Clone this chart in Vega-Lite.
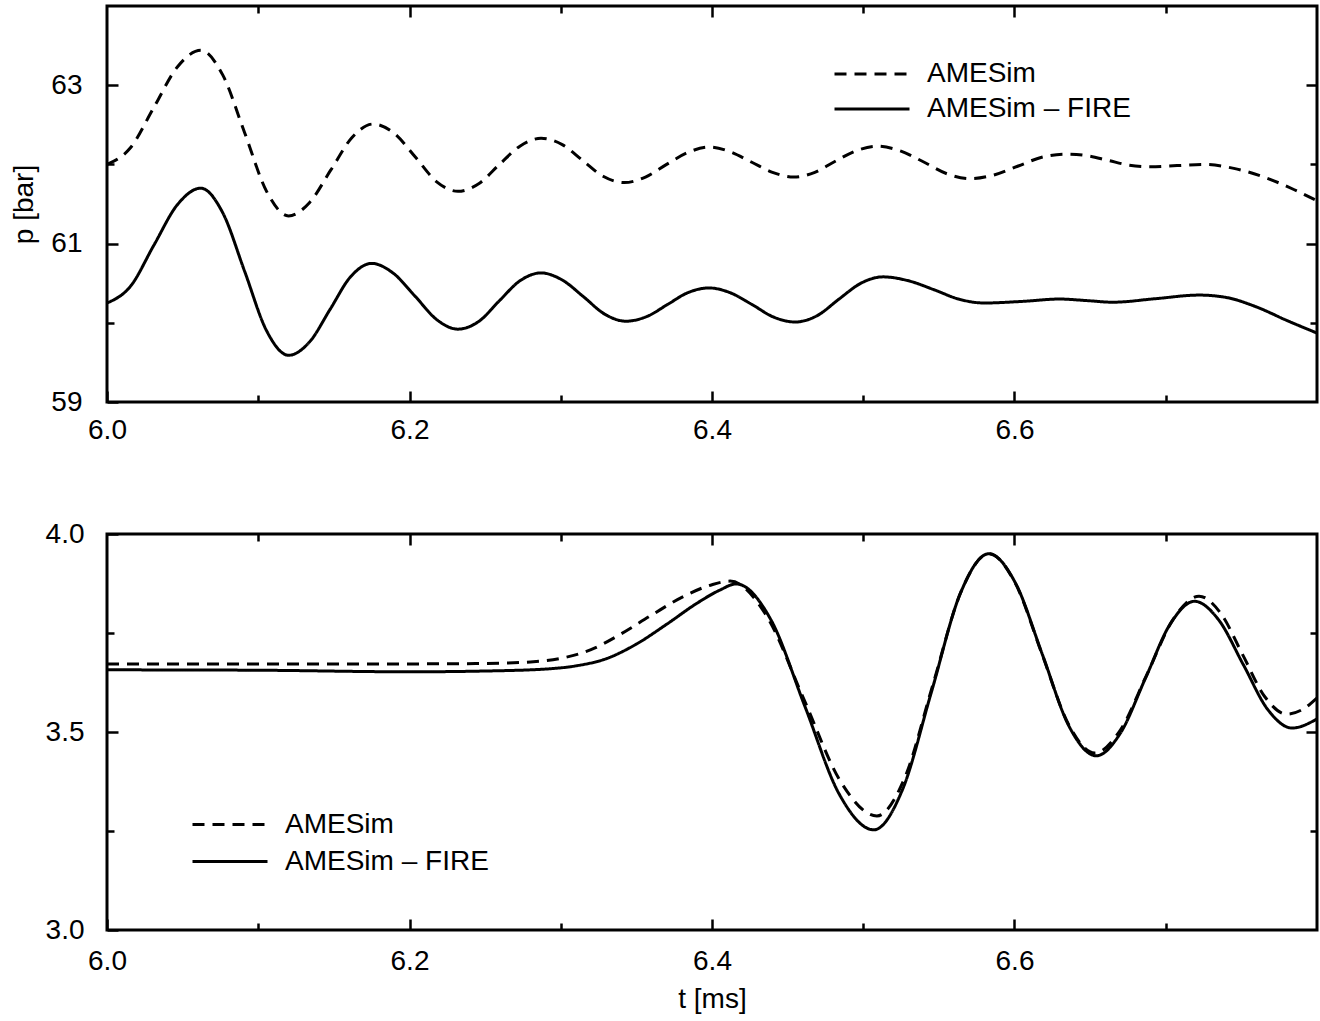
{
  "$schema": "https://vega.github.io/schema/vega-lite/v6.json",
  "padding": {"left": 9, "top": 3, "right": 2, "bottom": 2},
  "background": "white",
  "config": {
    "font": "Liberation Sans",
    "view": {"stroke": "black", "strokeWidth": 3},
    "axis": {"grid": false, "domain": false, "labelFont": "Liberation Sans", "labelFontSize": 28, "labelColor": "black", "tickColor": "black", "tickWidth": 2.5, "labelFlush": false, "labelOverlap": false, "titleFont": "Liberation Sans", "titleFontSize": 28, "titleFontWeight": "normal", "titleColor": "black"},
    "legend": {"orient": "none", "title": null, "symbolType": "stroke", "symbolSize": 5625, "symbolStrokeWidth": 3, "symbolStrokeColor": "black", "labelFont": "Liberation Sans", "labelFontSize": 28, "labelColor": "black", "labelOffset": 16, "rowPadding": 0, "padding": 0, "labelLimit": 400}
  },
  "datasets": {
    "top": [
      {"t": 6.000, "p": 62.00, "series": "AMESim"},
      {"t": 6.0155, "p": 62.21, "series": "AMESim"},
      {"t": 6.031, "p": 62.72, "series": "AMESim"},
      {"t": 6.0465, "p": 63.23, "series": "AMESim"},
      {"t": 6.062, "p": 63.44, "series": "AMESim"},
      {"t": 6.0765, "p": 63.13, "series": "AMESim"},
      {"t": 6.091, "p": 62.40, "series": "AMESim"},
      {"t": 6.1055, "p": 61.66, "series": "AMESim"},
      {"t": 6.120, "p": 61.35, "series": "AMESim"},
      {"t": 6.134, "p": 61.52, "series": "AMESim"},
      {"t": 6.148, "p": 61.93, "series": "AMESim"},
      {"t": 6.162, "p": 62.34, "series": "AMESim"},
      {"t": 6.176, "p": 62.51, "series": "AMESim"},
      {"t": 6.190, "p": 62.39, "series": "AMESim"},
      {"t": 6.204, "p": 62.09, "series": "AMESim"},
      {"t": 6.218, "p": 61.78, "series": "AMESim"},
      {"t": 6.232, "p": 61.66, "series": "AMESim"},
      {"t": 6.246, "p": 61.76, "series": "AMESim"},
      {"t": 6.2595, "p": 62.00, "series": "AMESim"},
      {"t": 6.273, "p": 62.23, "series": "AMESim"},
      {"t": 6.287, "p": 62.33, "series": "AMESim"},
      {"t": 6.301, "p": 62.25, "series": "AMESim"},
      {"t": 6.3145, "p": 62.05, "series": "AMESim"},
      {"t": 6.328, "p": 61.85, "series": "AMESim"},
      {"t": 6.342, "p": 61.77, "series": "AMESim"},
      {"t": 6.356, "p": 61.84, "series": "AMESim"},
      {"t": 6.370, "p": 62.00, "series": "AMESim"},
      {"t": 6.384, "p": 62.15, "series": "AMESim"},
      {"t": 6.398, "p": 62.22, "series": "AMESim"},
      {"t": 6.412, "p": 62.16, "series": "AMESim"},
      {"t": 6.426, "p": 62.03, "series": "AMESim"},
      {"t": 6.440, "p": 61.90, "series": "AMESim"},
      {"t": 6.454, "p": 61.84, "series": "AMESim"},
      {"t": 6.468, "p": 61.90, "series": "AMESim"},
      {"t": 6.4815, "p": 62.04, "series": "AMESim"},
      {"t": 6.495, "p": 62.17, "series": "AMESim"},
      {"t": 6.509, "p": 62.23, "series": "AMESim"},
      {"t": 6.5245, "p": 62.17, "series": "AMESim"},
      {"t": 6.540, "p": 62.03, "series": "AMESim"},
      {"t": 6.5555, "p": 61.88, "series": "AMESim"},
      {"t": 6.571, "p": 61.82, "series": "AMESim"},
      {"t": 6.587, "p": 61.87, "series": "AMESim"},
      {"t": 6.6025, "p": 61.98, "series": "AMESim"},
      {"t": 6.618, "p": 62.09, "series": "AMESim"},
      {"t": 6.634, "p": 62.13, "series": "AMESim"},
      {"t": 6.648, "p": 62.11, "series": "AMESim"},
      {"t": 6.662, "p": 62.05, "series": "AMESim"},
      {"t": 6.676, "p": 61.99, "series": "AMESim"},
      {"t": 6.690, "p": 61.97, "series": "AMESim"},
      {"t": 6.7075, "p": 61.985, "series": "AMESim"},
      {"t": 6.725, "p": 62.00, "series": "AMESim"},
      {"t": 6.745, "p": 61.95, "series": "AMESim"},
      {"t": 6.765, "p": 61.84, "series": "AMESim"},
      {"t": 6.785, "p": 61.68, "series": "AMESim"},
      {"t": 6.800, "p": 61.54, "series": "AMESim"},
      {"t": 6.000, "p": 60.25, "series": "AMESim – FIRE"},
      {"t": 6.0155, "p": 60.46, "series": "AMESim – FIRE"},
      {"t": 6.031, "p": 60.98, "series": "AMESim – FIRE"},
      {"t": 6.0465, "p": 61.49, "series": "AMESim – FIRE"},
      {"t": 6.062, "p": 61.70, "series": "AMESim – FIRE"},
      {"t": 6.0765, "p": 61.39, "series": "AMESim – FIRE"},
      {"t": 6.091, "p": 60.65, "series": "AMESim – FIRE"},
      {"t": 6.1055, "p": 59.90, "series": "AMESim – FIRE"},
      {"t": 6.120, "p": 59.59, "series": "AMESim – FIRE"},
      {"t": 6.134, "p": 59.76, "series": "AMESim – FIRE"},
      {"t": 6.1475, "p": 60.17, "series": "AMESim – FIRE"},
      {"t": 6.161, "p": 60.58, "series": "AMESim – FIRE"},
      {"t": 6.175, "p": 60.75, "series": "AMESim – FIRE"},
      {"t": 6.189, "p": 60.63, "series": "AMESim – FIRE"},
      {"t": 6.2035, "p": 60.34, "series": "AMESim – FIRE"},
      {"t": 6.218, "p": 60.04, "series": "AMESim – FIRE"},
      {"t": 6.232, "p": 59.92, "series": "AMESim – FIRE"},
      {"t": 6.246, "p": 60.02, "series": "AMESim – FIRE"},
      {"t": 6.2595, "p": 60.28, "series": "AMESim – FIRE"},
      {"t": 6.273, "p": 60.53, "series": "AMESim – FIRE"},
      {"t": 6.287, "p": 60.63, "series": "AMESim – FIRE"},
      {"t": 6.301, "p": 60.54, "series": "AMESim – FIRE"},
      {"t": 6.315, "p": 60.33, "series": "AMESim – FIRE"},
      {"t": 6.329, "p": 60.11, "series": "AMESim – FIRE"},
      {"t": 6.343, "p": 60.02, "series": "AMESim – FIRE"},
      {"t": 6.357, "p": 60.08, "series": "AMESim – FIRE"},
      {"t": 6.3705, "p": 60.23, "series": "AMESim – FIRE"},
      {"t": 6.384, "p": 60.38, "series": "AMESim – FIRE"},
      {"t": 6.398, "p": 60.44, "series": "AMESim – FIRE"},
      {"t": 6.412, "p": 60.38, "series": "AMESim – FIRE"},
      {"t": 6.4265, "p": 60.23, "series": "AMESim – FIRE"},
      {"t": 6.441, "p": 60.07, "series": "AMESim – FIRE"},
      {"t": 6.455, "p": 60.01, "series": "AMESim – FIRE"},
      {"t": 6.4695, "p": 60.09, "series": "AMESim – FIRE"},
      {"t": 6.484, "p": 60.30, "series": "AMESim – FIRE"},
      {"t": 6.4985, "p": 60.50, "series": "AMESim – FIRE"},
      {"t": 6.513, "p": 60.58, "series": "AMESim – FIRE"},
      {"t": 6.530, "p": 60.53, "series": "AMESim – FIRE"},
      {"t": 6.5465, "p": 60.42, "series": "AMESim – FIRE"},
      {"t": 6.563, "p": 60.30, "series": "AMESim – FIRE"},
      {"t": 6.580, "p": 60.25, "series": "AMESim – FIRE"},
      {"t": 6.605, "p": 60.27, "series": "AMESim – FIRE"},
      {"t": 6.630, "p": 60.30, "series": "AMESim – FIRE"},
      {"t": 6.648, "p": 60.28, "series": "AMESim – FIRE"},
      {"t": 6.665, "p": 60.26, "series": "AMESim – FIRE"},
      {"t": 6.6935, "p": 60.305, "series": "AMESim – FIRE"},
      {"t": 6.722, "p": 60.35, "series": "AMESim – FIRE"},
      {"t": 6.740, "p": 60.32, "series": "AMESim – FIRE"},
      {"t": 6.760, "p": 60.20, "series": "AMESim – FIRE"},
      {"t": 6.780, "p": 60.03, "series": "AMESim – FIRE"},
      {"t": 6.800, "p": 59.87, "series": "AMESim – FIRE"}
    ],
    "bottom": [
      {"t": 6.000, "p": 3.672, "series": "AMESim"},
      {"t": 6.100, "p": 3.672, "series": "AMESim"},
      {"t": 6.200, "p": 3.672, "series": "AMESim"},
      {"t": 6.250, "p": 3.673, "series": "AMESim"},
      {"t": 6.280, "p": 3.677, "series": "AMESim"},
      {"t": 6.300, "p": 3.686, "series": "AMESim"},
      {"t": 6.320, "p": 3.708, "series": "AMESim"},
      {"t": 6.340, "p": 3.748, "series": "AMESim"},
      {"t": 6.360, "p": 3.795, "series": "AMESim"},
      {"t": 6.380, "p": 3.840, "series": "AMESim"},
      {"t": 6.400, "p": 3.872, "series": "AMESim"},
      {"t": 6.412, "p": 3.881, "series": "AMESim"},
      {"t": 6.436, "p": 3.794, "series": "AMESim"},
      {"t": 6.4605, "p": 3.585, "series": "AMESim"},
      {"t": 6.485, "p": 3.375, "series": "AMESim"},
      {"t": 6.509, "p": 3.288, "series": "AMESim"},
      {"t": 6.5275, "p": 3.385, "series": "AMESim"},
      {"t": 6.546, "p": 3.619, "series": "AMESim"},
      {"t": 6.5645, "p": 3.853, "series": "AMESim"},
      {"t": 6.583, "p": 3.950, "series": "AMESim"},
      {"t": 6.6005, "p": 3.876, "series": "AMESim"},
      {"t": 6.618, "p": 3.699, "series": "AMESim"},
      {"t": 6.6355, "p": 3.521, "series": "AMESim"},
      {"t": 6.653, "p": 3.447, "series": "AMESim"},
      {"t": 6.670, "p": 3.505, "series": "AMESim"},
      {"t": 6.6875, "p": 3.645, "series": "AMESim"},
      {"t": 6.705, "p": 3.785, "series": "AMESim"},
      {"t": 6.722, "p": 3.843, "series": "AMESim"},
      {"t": 6.7365, "p": 3.799, "series": "AMESim"},
      {"t": 6.751, "p": 3.694, "series": "AMESim"},
      {"t": 6.7655, "p": 3.589, "series": "AMESim"},
      {"t": 6.780, "p": 3.545, "series": "AMESim"},
      {"t": 6.790, "p": 3.556, "series": "AMESim"},
      {"t": 6.800, "p": 3.586, "series": "AMESim"},
      {"t": 6.000, "p": 3.657, "series": "AMESim – FIRE"},
      {"t": 6.100, "p": 3.656, "series": "AMESim – FIRE"},
      {"t": 6.200, "p": 3.652, "series": "AMESim – FIRE"},
      {"t": 6.250, "p": 3.654, "series": "AMESim – FIRE"},
      {"t": 6.290, "p": 3.659, "series": "AMESim – FIRE"},
      {"t": 6.310, "p": 3.667, "series": "AMESim – FIRE"},
      {"t": 6.330, "p": 3.685, "series": "AMESim – FIRE"},
      {"t": 6.350, "p": 3.722, "series": "AMESim – FIRE"},
      {"t": 6.370, "p": 3.772, "series": "AMESim – FIRE"},
      {"t": 6.390, "p": 3.825, "series": "AMESim – FIRE"},
      {"t": 6.405, "p": 3.858, "series": "AMESim – FIRE"},
      {"t": 6.416, "p": 3.874, "series": "AMESim – FIRE"},
      {"t": 6.439, "p": 3.783, "series": "AMESim – FIRE"},
      {"t": 6.4615, "p": 3.564, "series": "AMESim – FIRE"},
      {"t": 6.484, "p": 3.344, "series": "AMESim – FIRE"},
      {"t": 6.507, "p": 3.253, "series": "AMESim – FIRE"},
      {"t": 6.526, "p": 3.355, "series": "AMESim – FIRE"},
      {"t": 6.545, "p": 3.600, "series": "AMESim – FIRE"},
      {"t": 6.564, "p": 3.848, "series": "AMESim – FIRE"},
      {"t": 6.583, "p": 3.950, "series": "AMESim – FIRE"},
      {"t": 6.6008, "p": 3.875, "series": "AMESim – FIRE"},
      {"t": 6.6185, "p": 3.695, "series": "AMESim – FIRE"},
      {"t": 6.636, "p": 3.515, "series": "AMESim – FIRE"},
      {"t": 6.654, "p": 3.440, "series": "AMESim – FIRE"},
      {"t": 6.670, "p": 3.497, "series": "AMESim – FIRE"},
      {"t": 6.6865, "p": 3.635, "series": "AMESim – FIRE"},
      {"t": 6.703, "p": 3.773, "series": "AMESim – FIRE"},
      {"t": 6.719, "p": 3.830, "series": "AMESim – FIRE"},
      {"t": 6.735, "p": 3.783, "series": "AMESim – FIRE"},
      {"t": 6.7513, "p": 3.670, "series": "AMESim – FIRE"},
      {"t": 6.7674, "p": 3.557, "series": "AMESim – FIRE"},
      {"t": 6.7835, "p": 3.510, "series": "AMESim – FIRE"},
      {"t": 6.800, "p": 3.533, "series": "AMESim – FIRE"}
    ]
  },
  "spacing": 132,
  "bounds": "flush",
  "resolve": {"scale": {"strokeDash": "independent"}, "legend": {"strokeDash": "independent"}},
  "vconcat": [
    {
      "width": 1210,
      "height": 396,
      "data": {"name": "top"},
      "resolve": {"axis": {"x": "independent", "y": "independent"}},
      "layer": [
        {
          "mark": {"type": "line", "interpolate": "monotone", "strokeWidth": 3, "color": "black", "clip": true},
          "encoding": {
            "x": {"field": "t", "type": "quantitative", "scale": {"domain": [6.0, 6.8], "nice": false, "zero": false},
                  "axis": {"orient": "bottom", "values": [6.0, 6.2, 6.4, 6.6], "format": ".1f", "tickSize": -11, "labelPadding": 25, "title": null}},
            "y": {"field": "p", "type": "quantitative", "scale": {"domain": [59, 64], "nice": false, "zero": false},
                  "axis": {"orient": "left", "values": [59, 61, 63], "format": "d", "tickSize": -11, "labelPadding": 36, "title": "p [bar]", "titlePadding": 12}},
            "strokeDash": {"field": "series", "type": "nominal",
                           "scale": {"domain": ["AMESim", "AMESim – FIRE"], "range": [[12, 8], [1, 0]]},
                           "legend": {"legendX": 726, "legendY": 50.5, "clipHeight": 35}}
          }
        },
        {
          "mark": {"type": "line", "opacity": 0},
          "encoding": {
            "x": {"field": "t", "type": "quantitative", "scale": {"domain": [6.0, 6.8], "nice": false, "zero": false},
                  "axis": {"orient": "top", "values": [6.2, 6.4, 6.6], "labels": false, "tickSize": -11, "title": null}},
            "y": {"field": "p", "type": "quantitative", "scale": {"domain": [59, 64], "nice": false, "zero": false},
                  "axis": {"orient": "right", "values": [61, 63], "labels": false, "tickSize": -11, "title": null}},
            "detail": {"field": "series"}
          }
        },
        {
          "mark": {"type": "line", "opacity": 0},
          "encoding": {
            "x": {"field": "t", "type": "quantitative", "scale": {"domain": [6.0, 6.8], "nice": false, "zero": false},
                  "axis": {"orient": "bottom", "values": [6.1, 6.3, 6.5, 6.7], "labels": false, "tickSize": -7, "title": null}},
            "y": {"field": "p", "type": "quantitative", "scale": {"domain": [59, 64], "nice": false, "zero": false},
                  "axis": {"orient": "left", "values": [60, 62], "labels": false, "tickSize": -7, "title": null}},
            "detail": {"field": "series"}
          }
        },
        {
          "mark": {"type": "line", "opacity": 0},
          "encoding": {
            "x": {"field": "t", "type": "quantitative", "scale": {"domain": [6.0, 6.8], "nice": false, "zero": false},
                  "axis": {"orient": "top", "values": [6.1, 6.3, 6.5, 6.7], "labels": false, "tickSize": -7, "title": null}},
            "y": {"field": "p", "type": "quantitative", "scale": {"domain": [59, 64], "nice": false, "zero": false},
                  "axis": {"orient": "right", "values": [60, 62], "labels": false, "tickSize": -7, "title": null}},
            "detail": {"field": "series"}
          }
        }
      ]
    },
    {
      "width": 1210,
      "height": 396,
      "data": {"name": "bottom"},
      "resolve": {"axis": {"x": "independent", "y": "independent"}},
      "layer": [
        {
          "mark": {"type": "line", "interpolate": "monotone", "strokeWidth": 3, "color": "black", "clip": true},
          "encoding": {
            "x": {"field": "t", "type": "quantitative", "scale": {"domain": [6.0, 6.8], "nice": false, "zero": false},
                  "axis": {"orient": "bottom", "values": [6.0, 6.2, 6.4, 6.6], "format": ".1f", "tickSize": -11, "labelPadding": 28, "title": "t [ms]", "titlePadding": 10}},
            "y": {"field": "p", "type": "quantitative", "scale": {"domain": [3.0, 4.0], "nice": false, "zero": false},
                  "axis": {"orient": "left", "values": [3.0, 3.5, 4.0], "format": ".1f", "tickSize": -11, "labelPadding": 34, "title": null}},
            "strokeDash": {"field": "series", "type": "nominal",
                           "scale": {"domain": ["AMESim", "AMESim – FIRE"], "range": [[12, 8], [1, 0]]},
                           "legend": {"legendX": 84, "legendY": 272, "clipHeight": 37}}
          }
        },
        {
          "mark": {"type": "line", "opacity": 0},
          "encoding": {
            "x": {"field": "t", "type": "quantitative", "scale": {"domain": [6.0, 6.8], "nice": false, "zero": false},
                  "axis": {"orient": "top", "values": [6.2, 6.4, 6.6], "labels": false, "tickSize": -11, "title": null}},
            "y": {"field": "p", "type": "quantitative", "scale": {"domain": [3.0, 4.0], "nice": false, "zero": false},
                  "axis": {"orient": "right", "values": [3.5], "labels": false, "tickSize": -11, "title": null}},
            "detail": {"field": "series"}
          }
        },
        {
          "mark": {"type": "line", "opacity": 0},
          "encoding": {
            "x": {"field": "t", "type": "quantitative", "scale": {"domain": [6.0, 6.8], "nice": false, "zero": false},
                  "axis": {"orient": "bottom", "values": [6.1, 6.3, 6.5, 6.7], "labels": false, "tickSize": -7, "title": null}},
            "y": {"field": "p", "type": "quantitative", "scale": {"domain": [3.0, 4.0], "nice": false, "zero": false},
                  "axis": {"orient": "left", "values": [3.25, 3.75], "labels": false, "tickSize": -7, "title": null}},
            "detail": {"field": "series"}
          }
        },
        {
          "mark": {"type": "line", "opacity": 0},
          "encoding": {
            "x": {"field": "t", "type": "quantitative", "scale": {"domain": [6.0, 6.8], "nice": false, "zero": false},
                  "axis": {"orient": "top", "values": [6.1, 6.3, 6.5, 6.7], "labels": false, "tickSize": -7, "title": null}},
            "y": {"field": "p", "type": "quantitative", "scale": {"domain": [3.0, 4.0], "nice": false, "zero": false},
                  "axis": {"orient": "right", "values": [3.25, 3.75], "labels": false, "tickSize": -7, "title": null}},
            "detail": {"field": "series"}
          }
        }
      ]
    }
  ]
}
